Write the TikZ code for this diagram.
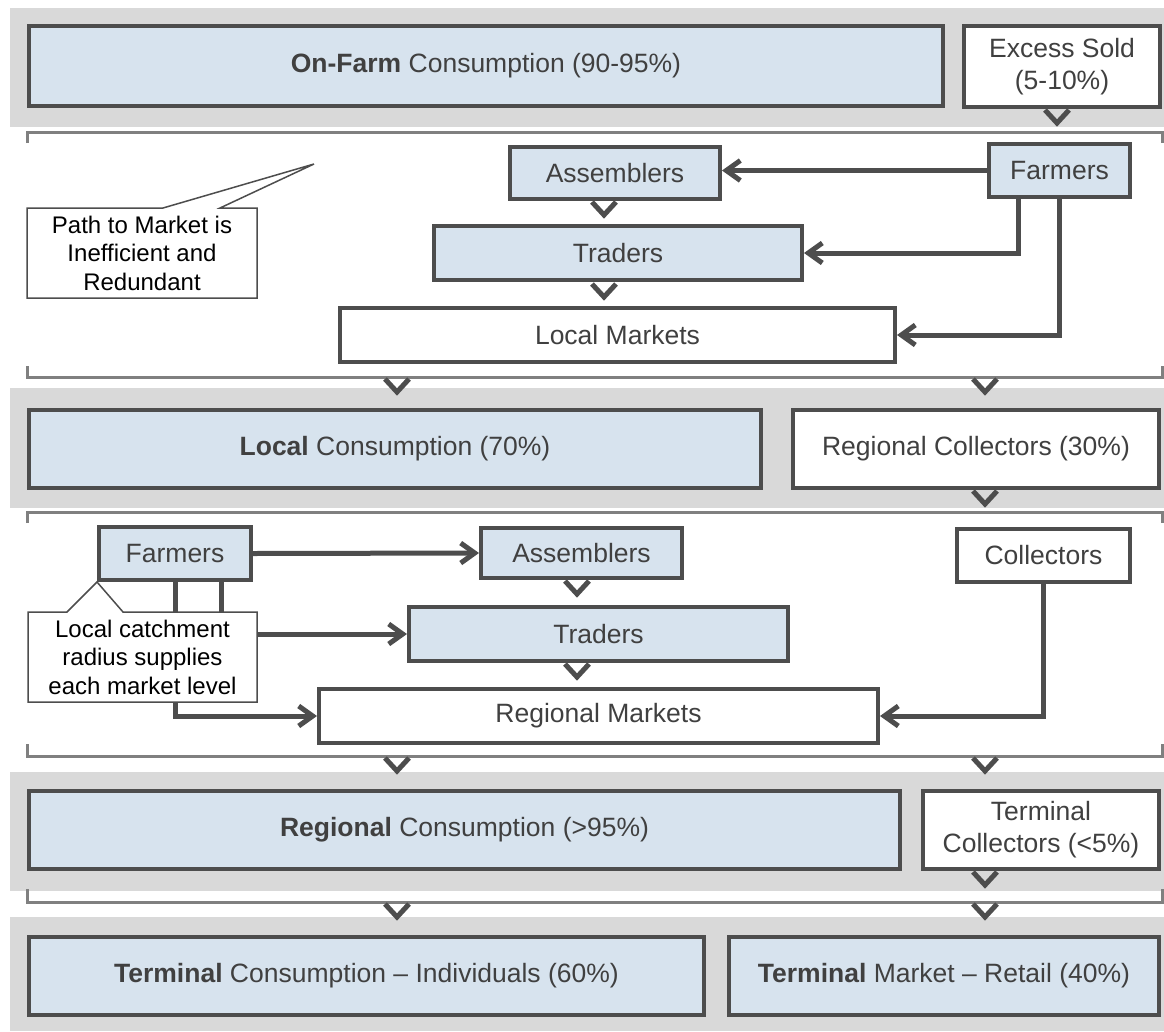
\documentclass[tikz,border=0pt]{standalone}
\usepackage{fontspec}
\setmainfont{Liberation Sans}
\usetikzlibrary{arrows.meta}

\definecolor{bandgray}{HTML}{D9D9D9}
\definecolor{boxblue}{HTML}{D7E3EE}
\definecolor{edgegray}{HTML}{4D4D4D}
\definecolor{brackgray}{HTML}{808080}
\definecolor{txtgray}{HTML}{404040}

\tikzset{
  box/.style={draw=edgegray, line width=4pt, text=txtgray, inner sep=0pt, align=center,
    font=\fontsize{26.5}{32}\selectfont},
  bluebox/.style={box, fill=boxblue},
  whitebox/.style={box, fill=white},
  flow/.style={draw=edgegray, line width=5pt, -{Straight Barb[length=14pt,width=20pt]}},
  chev/.style={draw=edgegray, line width=5pt},
  brack/.style={draw=brackgray, line width=3pt},
  note/.style={draw=edgegray, line width=1.5pt, fill=white},
  notetext/.style={text=black, align=center, inner sep=0pt, font=\fontsize{24}{28.5}\selectfont}
}
\newcommand{\downchev}[2]{\draw[chev] (#1-12,#2) -- (#1,#2+13) -- (#1+12,#2);}

\begin{document}
\begin{tikzpicture}[x=1pt,y=-1pt]
\useasboundingbox (0,0) rectangle (1164,1031);
%bands
\fill[bandgray] (10,8) rectangle (1164,127);
\fill[bandgray] (10,388) rectangle (1164,508);
\fill[bandgray] (10,772) rectangle (1164,891);
\fill[bandgray] (10,917) rectangle (1164,1031);
%brackets
\draw[brack] (27,143) -- (27,132) -- (1162,132) -- (1162,143);
\draw[brack] (27,366) -- (27,377) -- (1162,377) -- (1162,366);
\draw[brack] (27,523) -- (27,512) -- (1162,512) -- (1162,523);
\draw[brack] (27,744) -- (27,756) -- (1162,756) -- (1162,744);
\draw[brack] (27,889) -- (27,902) -- (1162,902) -- (1162,889);

%On-Farm level
\node[bluebox, minimum width=914pt, minimum height=80pt] (onfarm) at (486,66) {\textbf{On-Farm} Consumption (90-95\%)};
\node[whitebox, minimum width=196pt, minimum height=81pt] (excess) at (1062,66.5) {Excess Sold\\(5-10\%)};

%local path
\node[bluebox, minimum width=210pt, minimum height=52pt] (asm1) at (615,173) {Assemblers};
\node[bluebox, minimum width=141pt, minimum height=53pt] (farm1) at (1059.5,170.5) {Farmers};
\node[bluebox, minimum width=368pt, minimum height=54pt] (trd1) at (618,253) {Traders};
\node[whitebox, minimum width=555pt, minimum height=54pt] (lmkt) at (617.5,335) {Local Markets};
\draw[flow] (farm1.west) -- (asm1.east |- farm1.west);
\draw[flow] ([xshift=-41.5pt]farm1.south) |- (trd1.east);
\draw[flow] (farm1.south) |- (lmkt.east);

%Local level
\node[bluebox, minimum width=732pt, minimum height=78pt] (lcons) at (395,449) {\textbf{Local} Consumption (70\%)};
\node[whitebox, minimum width=366pt, minimum height=78pt] (rcoll) at (976,449) {Regional Collectors (30\%)};

%regional path
\node[bluebox, minimum width=152pt, minimum height=53pt] (farm2) at (175,553.5) {Farmers};
\node[bluebox, minimum width=201pt, minimum height=50pt] (asm2) at (581.5,553) {Assemblers};
\node[bluebox, minimum width=379pt, minimum height=54pt] (trd2) at (598.5,634) {Traders};
\node[whitebox, minimum width=559pt, minimum height=54pt] (rmkt) at (598.5,716) {Regional Markets};
\node[whitebox, minimum width=173pt, minimum height=53pt] (coll) at (1043.5,555.5) {Collectors};
\draw[flow] (farm2.east) -- (asm2.west);
\draw[flow] ([xshift=46pt]farm2.south) |- (trd2.west);
\draw[flow] (farm2.south) |- (rmkt.west);
\draw[flow] (coll.south) |- (rmkt.east);

%Regional level
\node[bluebox, minimum width=871pt, minimum height=78pt] (rcons) at (464.5,830) {\textbf{Regional} Consumption (>95\%)};
\node[whitebox, minimum width=236pt, minimum height=78pt] (tcoll) at (1041,830) {Terminal\\Collectors (<5\%)};

%Terminal level
\node[bluebox, minimum width=675pt, minimum height=78pt] (tcons) at (366.5,976) {\textbf{Terminal} Consumption -- Individuals (60\%)};
\node[bluebox, minimum width=430pt, minimum height=78pt] (tmkt) at (944,976) {\textbf{Terminal} Market -- Retail (40\%)};

%chevrons
\downchev{1057}{110}
\downchev{604}{202}
\downchev{604}{284}
\downchev{397}{379}
\downchev{985}{379}
\downchev{985}{491}
\downchev{577}{581}
\downchev{577}{664}
\downchev{397}{758}
\downchev{985}{758}
\downchev{985}{872}
\downchev{397}{904}
\downchev{985}{904}

%callouts
\coordinate (tip1) at (314,164);
\draw[note] (27,208) -- (163,208) -- (tip1) -- (220,208) -- (257,208) -- (257,298) -- (27,298) -- cycle;
\node[notetext] (note1) at (142,253) {Path to Market is\\Inefficient and\\Redundant};
\draw[note] (28,612) -- (67,612) -- (farm2.south west) -- (123,612) -- (257,612) -- (257,702) -- (28,702) -- cycle;
\node[notetext] (note2) at (142.5,657) {Local catchment\\radius supplies\\each market level};
\end{tikzpicture}
\end{document}
